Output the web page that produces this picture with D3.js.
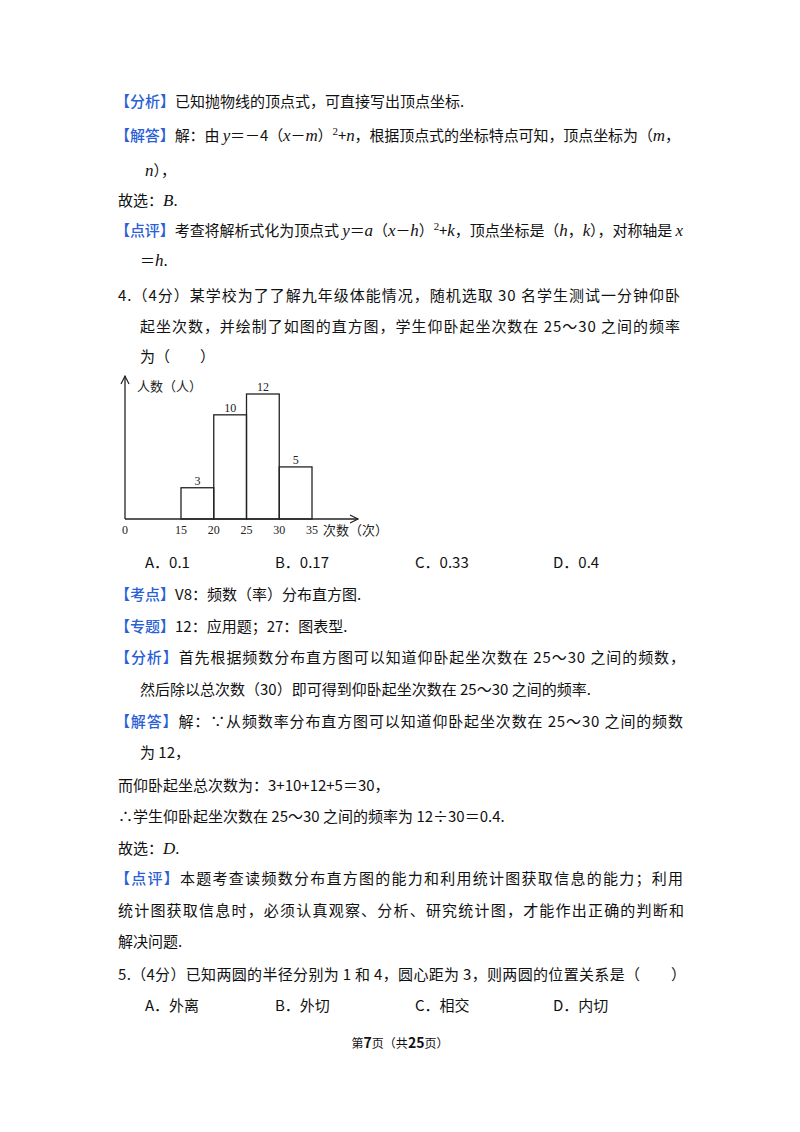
<!DOCTYPE html>
<html><head><meta charset="utf-8">
<script src="https://cdn.jsdelivr.net/npm/d3@7"></script>
<style>body{margin:0;background:#fff}</style>
</head><body><svg id="page" width="800" height="1132"></svg>
<script>
// histogram data
const binStarts = [15, 20, 25, 30];
const binWidth = 5;
const counts = [3, 10, 12, 5];
const xTicks = [15, 20, 25, 30, 35];

const svg = d3.select("#page");
const blue = "#2b5fd6";
const cjk = "'Noto Sans CJK SC', sans-serif";
const serif = "'Liberation Serif', 'DejaVu Serif', serif";

// each line: [x, y, segments, justifyWidth]
// segment: string (plain) | {b:""} blue bracket | {i:""} italic | {sup:""}
const lines = [
  [115, 107, [{b:"【分析】"}, "已知抛物线的顶点式，可直接写出顶点坐标."]],
  [115, 141, [{b:"【解答】"}, "解：由 ", {i:"y"}, "＝－4（", {i:"x"}, "－", {i:"m"}, "）", {sup:"2"}, "+", {i:"n"}, "，根据顶点式的坐标特点可知，顶点坐标为（", {i:"m"}, "，"], 565],
  [145, 176, [{i:"n"}, "），"]],
  [118, 206, ["故选：", {i:"B"}, "."]],
  [115, 236, [{b:"【点评】"}, "考查将解析式化为顶点式 ", {i:"y"}, "＝", {i:"a"}, "（", {i:"x"}, "－", {i:"h"}, "）", {sup:"2"}, "+", {i:"k"}, "，顶点坐标是（", {i:"h"}, "，", {i:"k"}, "），对称轴是 ", {i:"x"}], 568],
  [140, 266, ["＝", {i:"h"}, "."]],
  [118, 301, ["4.（4分）某学校为了了解九年级体能情况，随机选取 30 名学生测试一分钟仰卧"], 562],
  [140, 332, ["起坐次数，并绘制了如图的直方图，学生仰卧起坐次数在 25～30 之间的频率"], 540],
  [140, 362, ["为（　　）"]],
  [145, 568, ["A．0.1"]], [275, 568, ["B．0.17"]], [415, 568, ["C．0.33"]], [553, 568, ["D．0.4"]],
  [115, 600, [{b:"【考点】"}, "V8：频数（率）分布直方图."]],
  [115, 632, [{b:"【专题】"}, "12：应用题；27：图表型."]],
  [115, 663, [{b:"【分析】"}, "首先根据频数分布直方图可以知道仰卧起坐次数在 25～30 之间的频数，"], 570],
  [140, 695, ["然后除以总次数（30）即可得到仰卧起坐次数在 25～30 之间的频率."]],
  [115, 727, [{b:"【解答】"}, "解：∵从频数率分布直方图可以知道仰卧起坐次数在 25～30 之间的频数"], 568],
  [140, 758, ["为 12，"]],
  [118, 791, ["而仰卧起坐总次数为：3+10+12+5＝30，"]],
  [118, 822, ["∴学生仰卧起坐次数在 25～30 之间的频率为 12÷30＝0.4."]],
  [118, 854, ["故选：", {i:"D"}, "."]],
  [115, 884, [{b:"【点评】"}, "本题考查读频数分布直方图的能力和利用统计图获取信息的能力；利用"], 568],
  [118, 916, ["统计图获取信息时，必须认真观察、分析、研究统计图，才能作出正确的判断和"], 566],
  [118, 947, ["解决问题."]],
  [118, 980, ["5.（4分）已知两圆的半径分别为 1 和 4，圆心距为 3，则两圆的位置关系是（　　）"], 568],
  [145, 1011, ["A．外离"]], [275, 1011, ["B．外切"]], [415, 1011, ["C．相交"]], [553, 1011, ["D．内切"]]
];

lines.forEach(([x, y, segs, w]) => {
  const t = svg.append("text").attr("x", x).attr("y", y)
    .attr("font-family", cjk).attr("font-size", 15).attr("fill", "#111");
  if (w) t.attr("textLength", w).attr("lengthAdjust", "spacing");
  let shift = 0;
  segs.forEach(s => {
    let sp;
    if (typeof s === "string") sp = t.append("tspan").text(s);
    else if (s.b) sp = t.append("tspan").attr("fill", blue).attr("font-weight", 500).text(s.b);
    else if (s.i) sp = t.append("tspan").attr("font-family", serif).attr("font-style", "italic").attr("font-size", 17).text(s.i);
    else if (s.sup) {
      t.append("tspan").attr("font-family", serif).attr("font-size", 11).attr("dy", -6).text(s.sup);
      shift = 6;
      return;
    }
    if (shift) { sp.attr("dy", shift); shift = 0; }
  });
});

// footer
svg.append("text").attr("x", 400).attr("y", 1048).attr("text-anchor", "middle")
  .attr("font-family", cjk).attr("font-size", 12).attr("fill", "#111")
  .html('第<tspan font-weight="bold" font-size="14">7</tspan>页（共<tspan font-weight="bold" font-size="14">25</tspan>页）');

// histogram
const ox = 125, oy = 519;
const x = d3.scaleLinear().domain([15, 35]).range([181, 312]);
const y = d3.scaleLinear().domain([0, 12]).range([oy, 394]);
const g = svg.append("g").attr("stroke", "#222").attr("fill", "none");

g.selectAll("rect").data(counts).join("rect")
  .attr("x", (d, i) => x(binStarts[i])).attr("width", x(binWidth + 15) - x(15))
  .attr("y", d => y(d)).attr("height", d => oy - y(d)).attr("stroke-width", 1.3);

g.append("line").attr("x1", ox).attr("y1", oy).attr("x2", 358).attr("y2", oy).attr("stroke-width", 1.3);
g.append("line").attr("x1", ox).attr("y1", oy).attr("x2", ox).attr("y2", 376).attr("stroke-width", 1.3);
g.append("path").attr("d", `M${ox - 4},${384} L${ox},${376} L${ox + 4},${384}`).attr("stroke-width", 1.2);
g.append("path").attr("d", `M350,${oy - 4} L358,${oy} L350,${oy + 4}`).attr("stroke-width", 1.2);

const lab = svg.append("g").attr("font-family", serif).attr("font-size", 12).attr("fill", "#222");
lab.selectAll(".cnt").data(counts).join("text")
  .attr("x", (d, i) => x(binStarts[i] + binWidth / 2)).attr("y", d => y(d) - 3)
  .attr("text-anchor", "middle").text(d => d);
lab.selectAll(".tick").data(xTicks).join("text")
  .attr("x", d => x(d)).attr("y", oy + 15).attr("text-anchor", "middle").text(d => d);
lab.append("text").attr("x", ox).attr("y", oy + 15).attr("text-anchor", "middle").text("0");
svg.append("text").attr("x", 137).attr("y", 391).attr("font-family", cjk).attr("font-size", 13).attr("fill", "#222").text("人数（人）");
svg.append("text").attr("x", 323).attr("y", 535).attr("font-family", cjk).attr("font-size", 13).attr("fill", "#222").text("次数（次）");
</script></body></html>
